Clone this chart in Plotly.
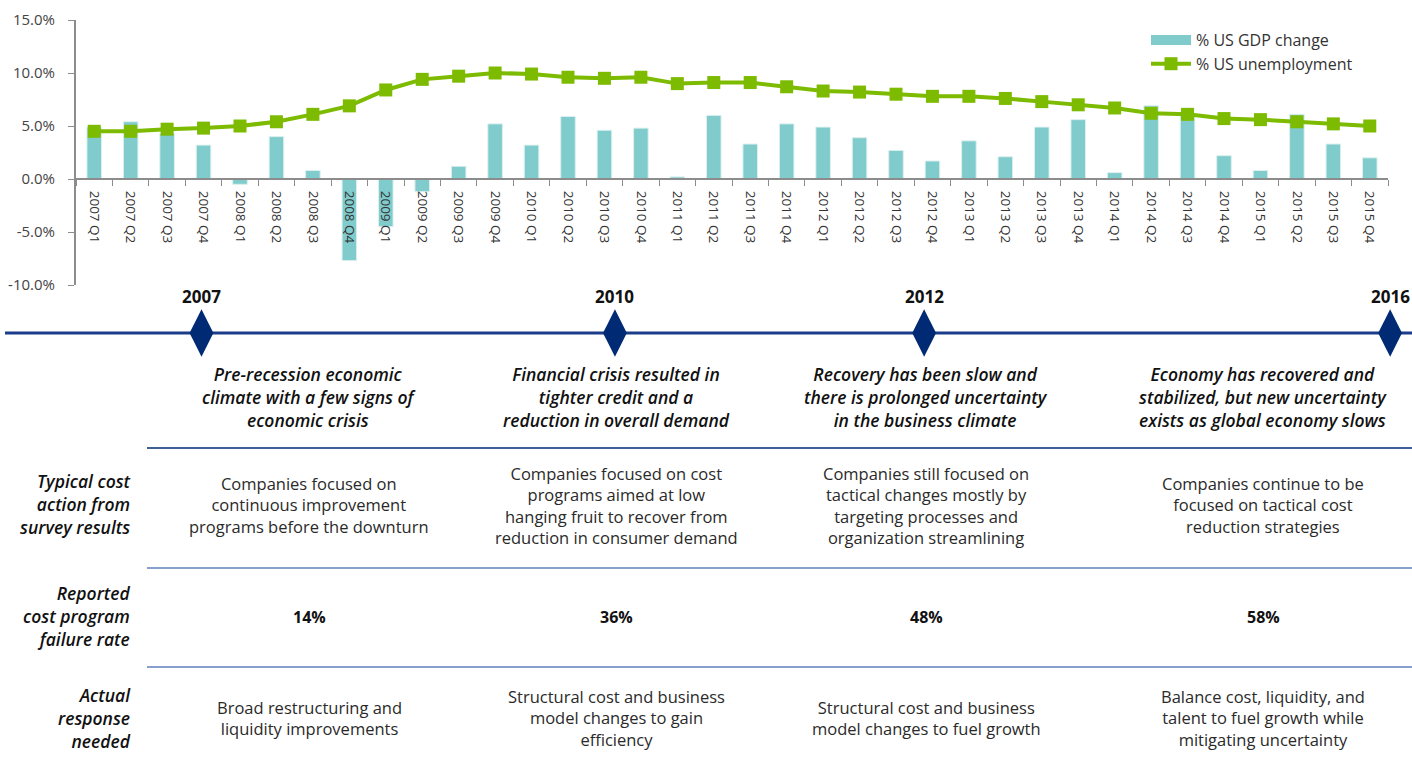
import plotly.graph_objects as go

quarters = ["2007 Q1", "2007 Q2", "2007 Q3", "2007 Q4", "2008 Q1", "2008 Q2", "2008 Q3", "2008 Q4",
            "2009 Q1", "2009 Q2", "2009 Q3", "2009 Q4", "2010 Q1", "2010 Q2", "2010 Q3", "2010 Q4",
            "2011 Q1", "2011 Q2", "2011 Q3", "2011 Q4", "2012 Q1", "2012 Q2", "2012 Q3", "2012 Q4",
            "2013 Q1", "2013 Q2", "2013 Q3", "2013 Q4", "2014 Q1", "2014 Q2", "2014 Q3", "2014 Q4",
            "2015 Q1", "2015 Q2", "2015 Q3", "2015 Q4"]
gdp_change = [4.9, 5.4, 4.3, 3.2, -0.5, 4.0, 0.8, -7.7, -4.5, -1.2, 1.2, 5.2,
              3.2, 5.9, 4.6, 4.8, 0.2, 6.0, 3.3, 5.2, 4.9, 3.9, 2.7, 1.7,
              3.6, 2.1, 4.9, 5.6, 0.6, 6.9, 6.0, 2.2, 0.8, 6.1, 3.3, 2.0]
unemployment = [4.5, 4.5, 4.7, 4.8, 5.0, 5.4, 6.1, 6.9, 8.4, 9.4, 9.7, 10.0,
                9.9, 9.6, 9.5, 9.6, 9.0, 9.1, 9.1, 8.7, 8.3, 8.2, 8.0, 7.8,
                7.8, 7.6, 7.3, 7.0, 6.7, 6.2, 6.1, 5.7, 5.6, 5.4, 5.2, 5.0]
y_ticks = [-10, -5, 0, 5, 10, 15]
y_tick_labels = ["-10.0%", "-5.0%", "0.0%", "5.0%", "10.0%", "15.0%"]

milestones = ["2007", "2010", "2012", "2016"]
climate = ["Pre-recession economic<br>climate with a few signs of<br>economic crisis",
           "Financial crisis resulted in<br>tighter credit and a<br>reduction in overall demand",
           "Recovery has been slow and<br>there is prolonged uncertainty<br>in the business climate",
           "Economy has recovered and<br>stabilized, but new uncertainty<br>exists as global economy slows"]
row_labels = ["Typical cost<br>action from<br>survey results",
              "Reported<br>cost program<br>failure rate",
              "Actual<br>response<br>needed"]
cost_actions = ["Companies focused on<br>continuous improvement<br>programs before the downturn",
                "Companies focused on cost<br>programs aimed at low<br>hanging fruit to recover from<br>reduction in consumer demand",
                "Companies still focused on<br>tactical changes mostly by<br>targeting processes and<br>organization streamlining",
                "Companies continue to be<br>focused on tactical cost<br>reduction strategies"]
failure_rates = ["14%", "36%", "48%", "58%"]
responses = ["Broad restructuring and<br>liquidity improvements",
             "Structural cost and business<br>model changes to gain<br>efficiency",
             "Structural cost and business<br>model changes to fuel growth",
             "Balance cost, liquidity, and<br>talent to fuel growth while<br>mitigating uncertainty"]

# page geometry (pixels)
W, H = 1412, 771
def px(x):
    return x / W
def py(y):
    return 1 - y / H

TEAL = "#80CBCB"
GREEN = "#7CBB00"
NAVY = "#012A74"
LINEBLUE = "#5F7FBD"
FONT = "Open Sans"

y_range = [-10, 15]
y_dom = [py(285), py(20)]
zero_pos = y_dom[0] + (y_dom[1] - y_dom[0]) * (0 - y_range[0]) / (y_range[1] - y_range[0])

fig = go.Figure()
fig.add_trace(go.Bar(x=quarters, y=gdp_change, name="% US GDP change", marker_color=TEAL,
                     marker_line=dict(color="#DDF0F0", width=1), width=0.4, showlegend=False))
fig.add_trace(go.Scatter(x=[None], y=[None], mode="lines", name="% US GDP change",
                         line=dict(color=TEAL, width=14)))
fig.add_trace(go.Scatter(x=quarters, y=unemployment, mode="lines+markers", name="% US unemployment",
                         line=dict(color=GREEN, width=4),
                         marker=dict(symbol="square", size=13, color=GREEN)))

# timeline milestones
milestone_x = [0.1427, 0.4355, 0.6545, 0.9845]
fig.add_trace(go.Scatter(x=milestone_x, y=[0.5] * 4, xaxis="x2", yaxis="y2", mode="markers",
                         marker=dict(symbol="diamond-tall", size=34, color=NAVY),
                         showlegend=False, cliponaxis=False))

semi_it = dict(family=FONT, style="italic", weight=600, color="#111")
ann = []
for i, yr in enumerate(milestones):
    a = dict(x=milestone_x[i], y=py(296), text="<b>" + yr + "</b>",
             font=dict(size=17, color="#111", family=FONT))
    if i == len(milestones) - 1:
        a.update(x=1, xanchor="right")
    ann.append(a)
col_x = [px(309), px(616), px(926), px(1263)]
for i in range(4):
    ann.append(dict(x=col_x[i], y=py(397), text=climate[i], font=dict(size=17.5, **semi_it)))
    ann.append(dict(x=col_x[i], y=py(505), text=cost_actions[i],
                    font=dict(size=16.5, color="#2a2a2a", family=FONT)))
    ann.append(dict(x=col_x[i], y=py(617), text="<b>" + failure_rates[i] + "</b>",
                    font=dict(size=16, color="#111", family=FONT)))
    ann.append(dict(x=col_x[i], y=py(718), text=responses[i],
                    font=dict(size=16.5, color="#2a2a2a", family=FONT)))
row_y = [py(504), py(616), py(718)]
for i, lab in enumerate(row_labels):
    ann.append(dict(x=px(133), y=row_y[i], xanchor="right", align="right",
                    text=lab, font=dict(size=17.5, **semi_it)))
for a in ann:
    a.update(xref="paper", yref="paper", showarrow=False)
    a.setdefault("xanchor", "center")
    a.setdefault("yanchor", "middle")

shapes = [
    dict(type="line", x0=px(5), x1=1, y0=py(333), y1=py(333), line=dict(color="#1A3C8A", width=3)),
    dict(type="line", x0=px(147), x1=1, y0=py(448), y1=py(448), line=dict(color=NAVY, width=1.5)),
    dict(type="line", x0=px(147), x1=1, y0=py(568), y1=py(568), line=dict(color=LINEBLUE, width=1.5)),
    dict(type="line", x0=px(147), x1=1, y0=py(667), y1=py(667), line=dict(color=LINEBLUE, width=1.5)),
]
for s in shapes:
    s.update(xref="paper", yref="paper", layer="below")

fig.update_layout(
    width=W, height=H, margin=dict(l=0, r=0, t=0, b=0),
    paper_bgcolor="white", plot_bgcolor="white",
    font=dict(family=FONT, color="#333"),
    xaxis=dict(type="category", domain=[px(76), px(1388)], anchor="free", position=zero_pos,
               range=[-0.5, len(quarters) - 0.5],
               showline=True, linecolor="#8C8C8C", linewidth=2, ticks="outside", tickson="boundaries",
               ticklen=6, tickcolor="#8C8C8C", tickangle=90, ticklabelstandoff=8,
               tickfont=dict(size=13.5, color="#333"),
               showgrid=False, zeroline=False, automargin=False),
    yaxis=dict(domain=y_dom, range=y_range, tickvals=y_ticks, ticktext=y_tick_labels,
               showline=True, linecolor="#8C8C8C", linewidth=2, ticks="outside",
               ticklen=6, tickcolor="#8C8C8C", ticklabelstandoff=10,
               tickfont=dict(size=15, color="#444"),
               showgrid=False, zeroline=False, automargin=False),
    xaxis2=dict(domain=[0, 1], range=[0, 1], visible=False, anchor="y2"),
    yaxis2=dict(domain=[py(350), py(316)], range=[0, 1], visible=False, anchor="x2"),
    legend=dict(x=px(1146), y=py(23), xanchor="left", yanchor="top", itemwidth=40,
                font=dict(size=16, color="#333"), bgcolor="rgba(0,0,0,0)"),
    annotations=ann, shapes=shapes,
)

fig.write_html("out.html", config={"displayModeBar": False},
               post_script="document.body.style.margin='0px';")
